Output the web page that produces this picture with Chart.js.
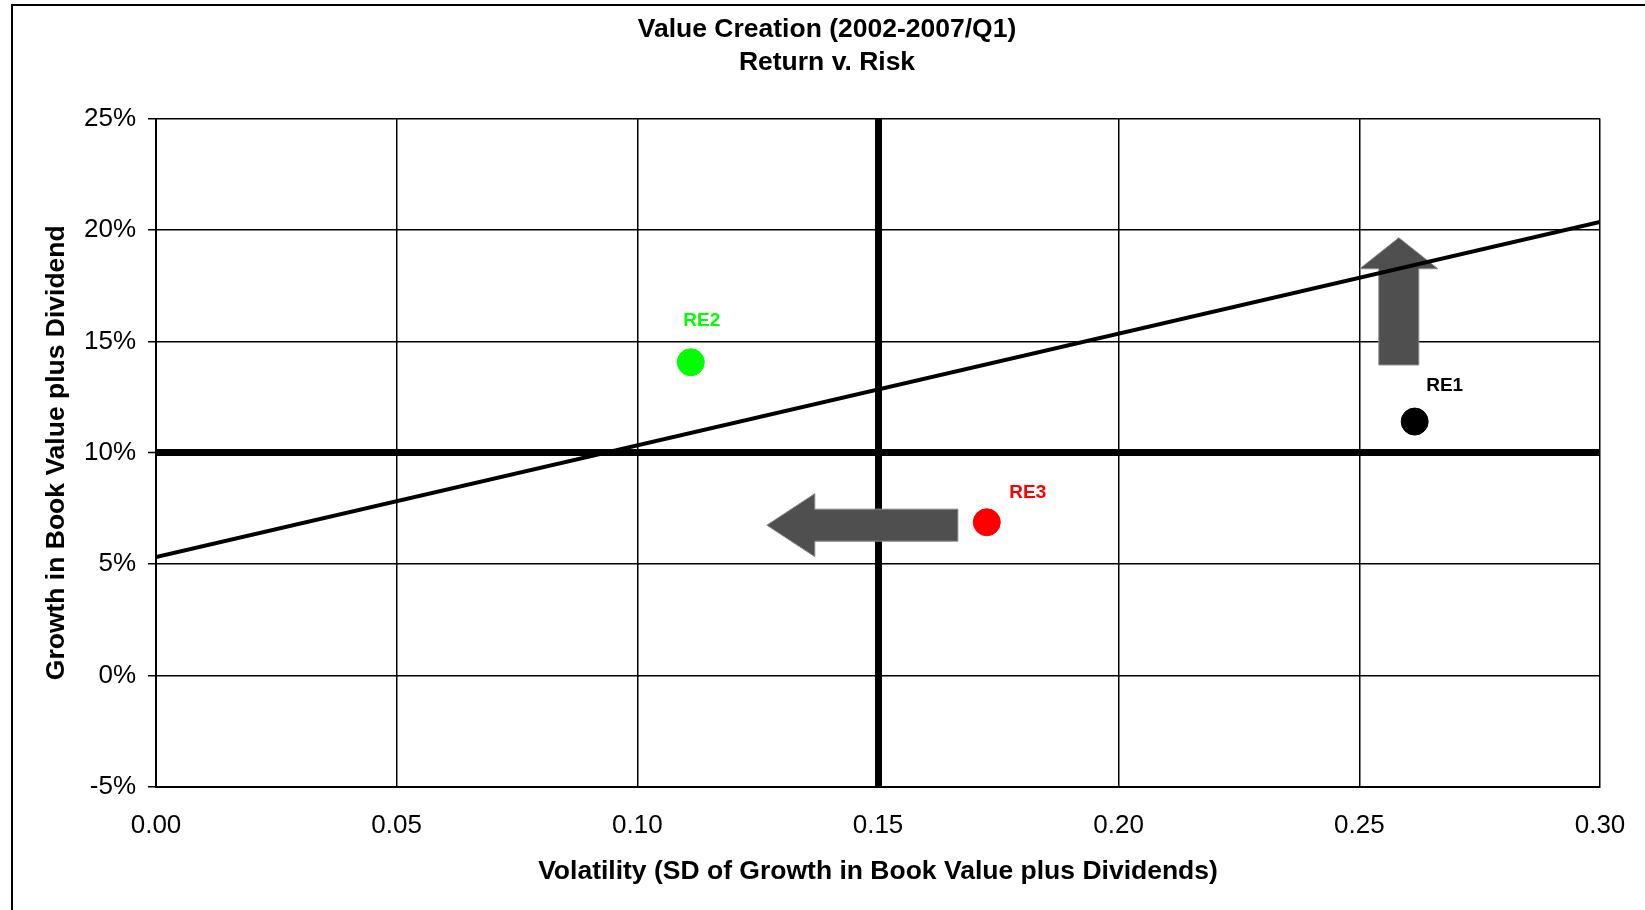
<!DOCTYPE html>
<html lang="en">
<head>
  <meta charset="UTF-8" />
  <title>Value Creation - Return v. Risk</title>
  <script src="https://cdn.jsdelivr.net/npm/chart.js"></script>
  <style>
    html, body { margin: 0; padding: 0; background: #fff; overflow: hidden; }
    #wrap { position: relative; width: 1645px; height: 910px; }
    #frame { position: absolute; left: 11px; top: 4px; width: 1700px; height: 1000px;
             border-left: 2px solid #000; border-top: 2px solid #000; box-sizing: border-box; }
    canvas { position: absolute; left: 0; top: 0; }
  </style>
</head>
<body>
  <div id="wrap">
    <div id="frame"></div>
    <canvas id="chart" width="1645" height="910"></canvas>
  </div>

  <script>
    // points (volatility, growth %)
    const names = ['RE1', 'RE2', 'RE3'];
    const volatility = [0.2615, 0.1111, 0.1726];
    const growth = [11.4, 14.06, 6.88];
    const pointColors = ['#000000', '#00ff00', '#ff0000'];

    // trend line ends
    const trendX = [0, 0.30];
    const trendY = [5.32, 20.36];

    // axis ticks
    const xTicks = [0, 0.05, 0.10, 0.15, 0.20, 0.25, 0.30];
    const yTicks = [-5, 0, 5, 10, 15, 20, 25];

    // arrows, ends in data units, widths in px
    const arrows = [
      { from: [0.2582, 13.94], to: [0.2582, 19.65], shaft: 40, head: 78, headLen: 31 },
      { from: [0.1666, 6.75], to: [0.1269, 6.75], shaft: 32, head: 63, headLen: 48 }
    ];
    // label offsets from the marker, px
    const labelOffsets = [[30, -36], [11, -42], [41, -30]];

    const FONT = "'Liberation Sans', Arial, sans-serif";

    const arrowPlugin = {
      id: 'arrows',
      beforeDatasetsDraw(chart) {
        const { ctx, scales: { x, y } } = chart;
        ctx.save();
        arrows.forEach(a => {
          const x0 = x.getPixelForValue(a.from[0]), y0 = y.getPixelForValue(a.from[1]);
          const x1 = x.getPixelForValue(a.to[0]), y1 = y.getPixelForValue(a.to[1]);
          const ang = Math.atan2(y1 - y0, x1 - x0);
          const len = Math.hypot(x1 - x0, y1 - y0);
          ctx.save();
          ctx.translate(x0, y0);
          ctx.rotate(ang);
          ctx.beginPath();
          ctx.moveTo(0, -a.shaft / 2);
          ctx.lineTo(len - a.headLen, -a.shaft / 2);
          ctx.lineTo(len - a.headLen, -a.head / 2);
          ctx.lineTo(len, 0);
          ctx.lineTo(len - a.headLen, a.head / 2);
          ctx.lineTo(len - a.headLen, a.shaft / 2);
          ctx.lineTo(0, a.shaft / 2);
          ctx.closePath();
          ctx.fillStyle = '#4f4f4f';
          ctx.fill();
          ctx.strokeStyle = '#8a8a8a';
          ctx.lineWidth = 1;
          ctx.stroke();
          ctx.restore();
        });
        ctx.restore();
      },
      afterDatasetsDraw(chart) {
        const { ctx, scales: { x, y } } = chart;
        ctx.save();
        ctx.font = 'bold 19px ' + FONT;
        ctx.textAlign = 'center';
        ctx.textBaseline = 'middle';
        names.forEach((n, i) => {
          ctx.fillStyle = pointColors[i];
          ctx.fillText(n, x.getPixelForValue(volatility[i]) + labelOffsets[i][0],
                          y.getPixelForValue(growth[i]) + labelOffsets[i][1]);
        });
        ctx.restore();
      }
    };

    const isThick = (v, mark) => Math.abs(v - mark) < 1e-9;

    new Chart(document.getElementById('chart'), {
      type: 'scatter',
      data: {
        datasets: [
          {
            type: 'line',
            label: 'Trend',
            data: trendX.map((v, i) => ({ x: v, y: trendY[i] })),
            borderColor: '#000',
            borderWidth: 4,
            pointRadius: 0,
            fill: false
          },
          {
            label: 'Companies',
            data: volatility.map((v, i) => ({ x: v, y: growth[i] })),
            backgroundColor: pointColors,
            borderColor: pointColors,
            pointRadius: 13.5,
            pointHoverRadius: 13.5
          }
        ]
      },
      options: {
        responsive: false,
        animation: false,
        // title is centred on the page frame, the plot keeps 45px on the right
        layout: { padding: { left: 9, right: 0, top: 0, bottom: 0 } },
        plugins: {
          legend: { display: false },
          tooltip: { enabled: false },
          title: {
            display: true,
            text: ['Value Creation (2002-2007/Q1)', 'Return v. Risk'],
            color: '#000',
            font: { family: FONT, size: 26.5, weight: 'bold', lineHeight: 33.5 / 26.5 },
            padding: { top: 12.5, bottom: 39 }
          }
        },
        scales: {
          x: {
            type: 'linear',
            min: 0,
            max: 0.30,
            afterBuildTicks: s => { s.ticks = xTicks.map(v => ({ value: v })); },
            afterFit: s => { s.height = 123; s.paddingLeft = 0; s.paddingRight = 45; },
            ticks: {
              color: '#000',
              padding: 23.5,
              maxRotation: 0,
              font: { family: FONT, size: 26 },
              callback: v => v.toFixed(2)
            },
            grid: {
              color: '#000',
              drawTicks: false,
              lineWidth: c => isThick(c.tick.value, 0.15) ? 7 : 1.5
            },
            border: { display: true, color: '#000', width: 2 },
            title: {
              display: true,
              text: 'Volatility (SD of Growth in Book Value plus Dividends)',
              color: '#000',
              font: { family: FONT, size: 26.5, weight: 'bold' },
              padding: { top: 0, bottom: 22 }
            }
          },
          y: {
            type: 'linear',
            min: -5,
            max: 25,
            afterBuildTicks: s => { s.ticks = yTicks.map(v => ({ value: v })); },
            afterFit: s => { s.width = 147; s.paddingTop = 0; s.paddingBottom = 0; },
            ticks: {
              color: '#000',
              padding: 12,
              font: { family: FONT, size: 26 },
              callback: v => v + '%'
            },
            grid: {
              color: '#000',
              tickColor: '#000',
              tickLength: 8,
              tickWidth: 1.5,
              lineWidth: c => isThick(c.tick.value, 10) ? 7 : 1.5
            },
            border: { display: true, color: '#000', width: 2 },
            title: {
              display: true,
              text: 'Growth in Book Value plus Dividend',
              color: '#000',
              font: { family: FONT, size: 26.5, weight: 'bold' },
              padding: { top: 32, bottom: 0 }
            }
          }
        }
      },
      plugins: [arrowPlugin]
    });
  </script>
</body>
</html>
